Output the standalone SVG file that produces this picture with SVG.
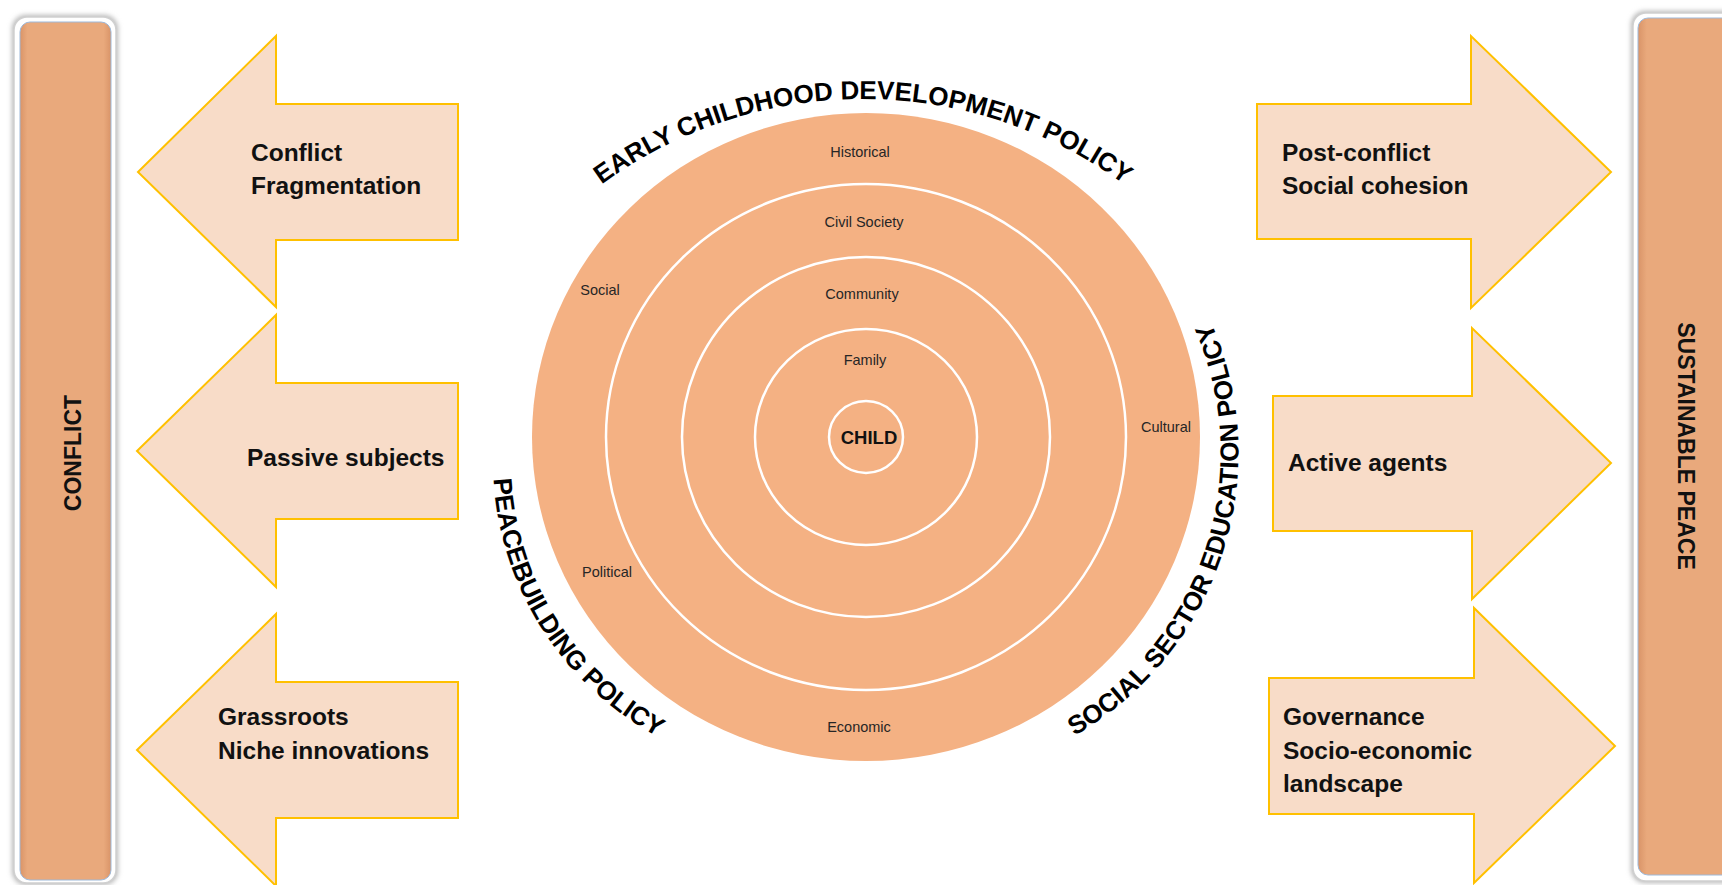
<svg xmlns="http://www.w3.org/2000/svg" width="1722" height="885" viewBox="0 0 1722 885">
<style>
  .arrow { fill: #F8DCC8; stroke: #FFC000; stroke-width: 2; stroke-linejoin: miter; }
  .atext { font-family: "Liberation Sans", Arial, sans-serif; font-weight: bold; font-size: 24.5px; fill: #111; }
  .bartext { font-family: "Liberation Sans", Arial, sans-serif; font-weight: bold; font-size: 23px; fill: #111; }
  .ring { fill: none; stroke: #FFFFFF; stroke-width: 2.5; }
  .lbl { font-family: "Liberation Sans", Arial, sans-serif; font-size: 14.5px; fill: #262626; text-anchor: middle; }
  .title { font-family: "Liberation Sans", Arial, sans-serif; font-weight: bold; font-size: 26px; fill: #000; }
  .frame { fill: #FFFFFF; stroke: #D0D0D0; stroke-width: 1.5; }
  .bar { fill: url(#barGrad); stroke: #9DB9DA; stroke-width: 1; }
</style>
<defs>
  <linearGradient id="barGrad" x1="0" y1="0" x2="1" y2="0">
    <stop offset="0" stop-color="#D99468"/>
    <stop offset="0.08" stop-color="#E9A97C"/>
    <stop offset="0.92" stop-color="#E9A97C"/>
    <stop offset="1" stop-color="#D99468"/>
  </linearGradient>
  <filter id="soft" x="-20%" y="-5%" width="140%" height="110%">
    <feGaussianBlur stdDeviation="2.5"/>
  </filter>
  <path id="arcTop" d="M 421 541 A 442 442 0 0 1 1305 541"/>
  <path id="arcLeft" d="M 494.2 433.7 A 313 313 0 0 0 698.9 755.1"/>
  <path id="arcRight" d="M 1006.2 765.2 A 326 326 0 0 0 1173.9 258.2"/>
</defs>

<rect width="1722" height="885" fill="#FFFFFF"/>

<g id="bar-conflict">
  <rect x="12" y="15" width="106" height="870" rx="14" fill="#B8B8B8" filter="url(#soft)"/>
  <rect class="frame" x="14" y="17" width="102" height="866" rx="13"/>
  <rect class="bar" x="20" y="22" width="91" height="858" rx="10"/>
  <text class="bartext" x="81" y="453" text-anchor="middle" transform="rotate(-90 81 453)">CONFLICT</text>
</g>

<g id="bar-sustainable-peace">
  <rect x="1631" y="11" width="120" height="872" rx="14" fill="#B8B8B8" filter="url(#soft)"/>
  <rect class="frame" x="1633" y="13" width="120" height="868" rx="13"/>
  <rect class="bar" x="1638" y="18" width="110" height="857" rx="10"/>
  <text class="bartext" x="1678" y="446" text-anchor="middle" transform="rotate(90 1678 446)" font-size="22.5">SUSTAINABLE PEACE</text>
</g>

<g id="arrow-conflict-fragmentation">
  <polygon class="arrow" points="138,172 276,36 276,104 458,104 458,240 276,240 276,307"/>
  <text class="atext" x="251" y="161">Conflict</text>
  <text class="atext" x="251" y="194">Fragmentation</text>
</g>
<g id="arrow-passive-subjects">
  <polygon class="arrow" points="137,451 276,315 276,383 458,383 458,519 276,519 276,587"/>
  <text class="atext" x="247" y="466">Passive subjects</text>
</g>
<g id="arrow-grassroots">
  <polygon class="arrow" points="137,750 276,614 276,682 458,682 458,818 276,818 276,886"/>
  <text class="atext" x="218" y="725">Grassroots</text>
  <text class="atext" x="218" y="759">Niche innovations</text>
</g>

<g id="arrow-post-conflict">
  <polygon class="arrow" points="1257,104 1471,104 1471,36 1611,172 1471,308 1471,239 1257,239"/>
  <text class="atext" x="1282" y="161">Post-conflict</text>
  <text class="atext" x="1282" y="194">Social cohesion</text>
</g>
<g id="arrow-active-agents">
  <polygon class="arrow" points="1273,396 1472,396 1472,328 1611,463 1472,599 1472,531 1273,531"/>
  <text class="atext" x="1288" y="471">Active agents</text>
</g>
<g id="arrow-governance">
  <polygon class="arrow" points="1269,678 1474,678 1474,608 1615,746 1474,883 1474,814 1269,814"/>
  <text class="atext" x="1283" y="725">Governance</text>
  <text class="atext" x="1283" y="759">Socio-economic</text>
  <text class="atext" x="1283" y="792">landscape</text>
</g>

<g id="circles">
  <ellipse cx="866" cy="437" rx="334" ry="324" fill="#F4B183"/>
  <ellipse class="ring" cx="866" cy="437" rx="260" ry="253"/>
  <ellipse class="ring" cx="866" cy="437" rx="184" ry="180"/>
  <ellipse class="ring" cx="866" cy="437" rx="111" ry="108"/>
  <ellipse class="ring" cx="866" cy="437" rx="37" ry="36"/>
  <text class="lbl" x="860" y="157">Historical</text>
  <text class="lbl" x="864" y="227">Civil Society</text>
  <text class="lbl" x="862" y="299">Community</text>
  <text class="lbl" x="865" y="365">Family</text>
  <text class="lbl" x="600" y="295">Social</text>
  <text class="lbl" x="1166" y="432">Cultural</text>
  <text class="lbl" x="607" y="577">Political</text>
  <text class="lbl" x="859" y="732">Economic</text>
  <text x="869" y="444" text-anchor="middle" font-family="Liberation Sans, Arial, sans-serif" font-weight="bold" font-size="18.5" fill="#111">CHILD</text>
</g>

<g id="title-ecd-policy">
  <text class="title" font-size="27"><textPath href="#arcTop" startOffset="50%" text-anchor="middle">EARLY CHILDHOOD DEVELOPMENT POLICY</textPath></text>
</g>
<g id="title-peacebuilding-policy">
  <text class="title"><textPath href="#arcLeft" startOffset="50%" text-anchor="middle">PEACEBUILDING POLICY</textPath></text>
</g>
<g id="title-social-sector-policy">
  <text class="title"><textPath href="#arcRight" startOffset="50%" text-anchor="middle">SOCIAL SECTOR EDUCATION POLICY</textPath></text>
</g>
</svg>
